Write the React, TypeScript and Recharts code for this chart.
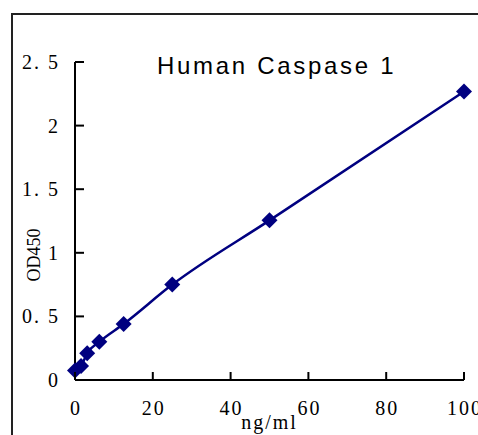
import { LineChart, Line, XAxis, YAxis } from 'recharts';

const concentrations = [0, 1.56, 3.125, 6.25, 12.5, 25, 50, 100];
const od450 = [0.075, 0.11, 0.21, 0.3, 0.44, 0.75, 1.255, 2.268];
const xTicks = [0, 20, 40, 60, 80, 100];
const yTicks = [0, 0.5, 1, 1.5, 2, 2.5];

const data = concentrations.map((c, i) => ({ conc: c, od: od450[i] }));

const NAVY = '#000080';
const tickFont = '"Liberation Serif", "Times New Roman", serif';

const fmt = (v: number) => String(v).replace('.', '. ');

const XTick = ({ x, y, payload }: any) => (
  <g>
    <line x1={x} y1={y} x2={x} y2={y - 8} stroke="#000" strokeWidth={2} />
    <text x={x + 1} y={y + 35} textAnchor="middle" fontFamily={tickFont} fontSize={20} letterSpacing={2} fill="#000">
      {fmt(payload.value)}
    </text>
  </g>
);

const YTick = ({ x, y, payload }: any) => (
  <g>
    <line x1={x} y1={y} x2={x + 9} y2={y} stroke="#000" strokeWidth={2} />
    <text x={x - 15} y={y + 7} textAnchor="end" fontFamily={tickFont} fontSize={20} letterSpacing={2} fill="#000">
      {fmt(payload.value)}
    </text>
  </g>
);

const Diamond = ({ cx, cy }: any) => {
  if (cx == null || cy == null) return null;
  const r = 8;
  return (
    <polygon
      points={`${cx},${cy - r} ${cx + r},${cy} ${cx},${cy + r} ${cx - r},${cy}`}
      fill={NAVY}
    />
  );
};

const YLabel = ({ viewBox }: any) => {
  const cx = viewBox.x + 34;
  const cy = viewBox.y + viewBox.height / 2 + 34;
  return (
    <text
      x={cx}
      y={cy}
      transform={`rotate(-90 ${cx} ${cy})`}
      textAnchor="middle"
      dominantBaseline="central"
      fontFamily={tickFont}
      fontSize={18}
      fill="#000"
    >
      OD450
    </text>
  );
};

export default function App() {
  return (
    <div style={{ position: 'absolute', left: 0, top: 0, width: 478, height: 435, background: '#fff', overflow: 'hidden' }}>
      <div
        style={{
          position: 'absolute', left: 11, top: 13, width: 480, height: 440,
          borderLeft: '2px solid #222', borderTop: '2px solid #222',
        }}
      />
      <div
        style={{
          position: 'absolute', left: 157, top: 54, whiteSpace: 'nowrap',
          fontFamily: '"Liberation Sans", Arial, sans-serif', fontSize: 24,
          lineHeight: '24px', letterSpacing: 2.7, color: '#000',
        }}
      >
        Human Caspase 1
      </div>
      <LineChart
        width={478}
        height={435}
        data={data}
        margin={{ top: 62, right: 14, bottom: 0, left: 0 }}
        style={{ position: 'absolute', left: 0, top: 0 }}
      >
        <XAxis
          dataKey="conc"
          type="number"
          domain={[0, 100]}
          ticks={xTicks}
          interval={0}
          height={55}
          tickSize={0}
          tickMargin={0}
          tickLine={false}
          tick={<XTick />}
          axisLine={{ stroke: '#000', strokeWidth: 2 }}
          label={{
            value: 'ng/ml', position: 'insideBottom', offset: 6,
            fontFamily: tickFont, fontSize: 20, letterSpacing: 2, fill: '#000',
          }}
        />
        <YAxis
          type="number"
          domain={[0, 2.5]}
          ticks={yTicks}
          interval={0}
          width={75}
          tickSize={0}
          tickMargin={0}
          tickLine={false}
          tick={<YTick />}
          axisLine={{ stroke: '#000', strokeWidth: 2 }}
          label={<YLabel />}
        />
        <Line
          type="monotone"
          dataKey="od"
          stroke={NAVY}
          strokeWidth={2.5}
          dot={<Diamond />}
          activeDot={false}
          isAnimationActive={false}
        />
      </LineChart>
    </div>
  );
}
